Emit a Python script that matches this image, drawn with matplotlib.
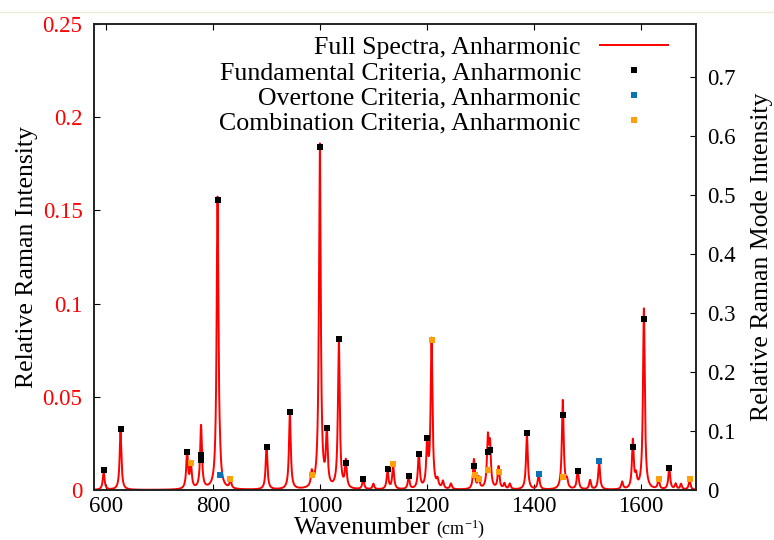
import numpy as np
import matplotlib
matplotlib.use('Agg')
import matplotlib.pyplot as plt
from matplotlib.lines import Line2D

plt.rcParams['font.family'] = ['Liberation Serif', 'DejaVu Serif']
plt.rcParams['mathtext.fontset'] = 'custom'
plt.rcParams['mathtext.rm'] = 'Liberation Serif'
plt.rcParams['mathtext.it'] = 'Liberation Serif:italic'

# ---- full spectrum: peak centres (cm^-1) and heights (relative Raman intensity)
peak_pos = [596, 627.5, 752, 759, 778, 808.8, 813, 833, 900.4, 944, 985, 1000,
            1013, 1035.5, 1048.6, 1081, 1100, 1126.5, 1137, 1166, 1185, 1200.6,
            1208.8, 1220, 1230, 1245, 1288, 1297, 1314, 1318, 1334, 1345, 1355,
            1387, 1409, 1454, 1462, 1482, 1505, 1522, 1565, 1585, 1591, 1605.6,
            1633, 1653, 1665, 1675, 1691]
peak_height = [0.0097, 0.031, 0.020, 0.013, 0.034, 0.156, 0.006, 0.0045, 0.023,
               0.041, 0.0075, 0.185, 0.029, 0.080, 0.0145, 0.0054, 0.003, 0.010,
               0.013, 0.0065, 0.019, 0.024, 0.080, 0.004, 0.004, 0.003, 0.016,
               0.006, 0.026, 0.022, 0.012, 0.003, 0.003, 0.030, 0.0085, 0.048,
               0.004, 0.011, 0.005, 0.015, 0.004, 0.026, 0.006, 0.097, 0.005,
               0.012, 0.003, 0.003, 0.005]
peak_hwhm = 2.0

# ---- mode intensities (right axis)
fund_x = [596.3, 627.5, 752, 778.1, 778.1, 808.8, 900.4, 943.9, 1000, 1013,
          1035.5, 1048.6, 1081, 1126.5, 1166, 1185, 1200.6, 1288.4, 1314.6,
          1317.8, 1387, 1454, 1482, 1585, 1605.6, 1653]
fund_y = [0.034, 0.103, 0.065, 0.059, 0.051, 0.492, 0.073, 0.132, 0.582, 0.105,
          0.256, 0.046, 0.018, 0.035, 0.024, 0.061, 0.088, 0.040, 0.065, 0.068,
          0.097, 0.127, 0.033, 0.073, 0.290, 0.037]
over_x = [813, 1408.8, 1522]
over_y = [0.026, 0.027, 0.049]
comb_x = [759.4, 833, 985, 1137, 1208.8, 1290, 1297, 1314, 1334, 1454, 1633, 1691]
comb_y = [0.045, 0.019, 0.025, 0.044, 0.254, 0.025, 0.019, 0.034, 0.031, 0.0215,
          0.019, 0.019]

xticks = [600, 800, 1000, 1200, 1400, 1600]
left_ticks = [0, 0.05, 0.1, 0.15, 0.2, 0.25]
left_ticklabels = ['0', '0.05', '0.1', '0.15', '0.2', '0.25']
right_ticks = [0, 0.1, 0.2, 0.3, 0.4, 0.5, 0.6, 0.7]
right_ticklabels = ['0', '0.1', '0.2', '0.3', '0.4', '0.5', '0.6', '0.7']

x = np.linspace(577, 1703, 6000)
spec = np.zeros_like(x)
for c, h in zip(peak_pos, peak_height):
    spec += h / (1.0 + ((x - c) / peak_hwhm) ** 2)

W, H = 774, 540
fig = plt.figure(figsize=(W / 100, H / 100), dpi=100)
ax = fig.add_axes([93.5 / W, 50 / H, (696 - 93.5) / W, (490 - 24) / H])
ax2 = ax.twinx()

ax.plot(x, spec, color='#ff0000', lw=1.4)
ax.set_xlim(577, 1703)
ax.set_ylim(0, 0.25)
ax2.set_ylim(0, 0.79)

ms = 5.0
ax2.plot(fund_x, fund_y, ls='none', marker='s', ms=ms, mew=0, color='black')
ax2.plot(over_x, over_y, ls='none', marker='s', ms=ms, mew=0, color='#0b72b8')
ax2.plot(comb_x, comb_y, ls='none', marker='s', ms=ms, mew=0, color='#ffa00a')

ax.set_xticks(xticks)
ax.set_xticklabels([str(t) for t in xticks])
ax.set_yticks(left_ticks)
ax.set_yticklabels(left_ticklabels)
ax2.set_yticks(right_ticks)
ax2.set_yticklabels(right_ticklabels)

fs = 16.5
ax.tick_params(axis='x', direction='in', top=True, bottom=True, length=4,
               labelsize=fs, pad=4, colors='black')
ax.tick_params(axis='y', direction='in', left=True, right=False, length=4,
               labelsize=fs, pad=8, labelcolor='#ff0000')
ax2.tick_params(axis='y', direction='in', right=True, left=False, length=4,
                labelsize=fs, pad=8)
for a in (ax, ax2):
    for s in a.spines.values():
        s.set_linewidth(1.2)
        s.set_color('#222222')

lfs = 18.5
ax.set_ylabel('Relative Raman Intensity', fontsize=lfs, labelpad=3)
ax2.set_ylabel('Relative Raman Mode Intensity', fontsize=lfs, labelpad=11)

fig.text(431 / W, (540 - 534) / H, 'Wavenumber', fontsize=lfs, ha='right',
         va='baseline')
fig.text(436 / W, (540 - 534) / H, r'(cm$^{-1}$)', fontsize=13, ha='left',
         va='baseline')

handles = [Line2D([], [], color='#ff0000', lw=1.4),
           Line2D([], [], ls='none', marker='s', ms=ms, mew=0, color='black'),
           Line2D([], [], ls='none', marker='s', ms=ms, mew=0, color='#0b72b8'),
           Line2D([], [], ls='none', marker='s', ms=ms, mew=0, color='#ffa00a')]
labels = ['Full Spectra, Anharmonic', 'Fundamental Criteria, Anharmonic',
          'Overtone Criteria, Anharmonic', 'Combination Criteria, Anharmonic']
leg = ax2.legend(handles, labels, loc='upper right', frameon=False,
                 markerfirst=False, fontsize=18.6, handlelength=2.64,
                 handletextpad=0.74, labelspacing=0.08, borderpad=0,
                 bbox_to_anchor=(681 / W, (540 - 23) / H),
                 bbox_transform=fig.transFigure)

fig.add_artist(Line2D([0, 1], [1 - 12 / H, 1 - 12 / H], color='#ecebd8', lw=1,
                      transform=fig.transFigure))

fig.savefig('out.png', dpi=100)
